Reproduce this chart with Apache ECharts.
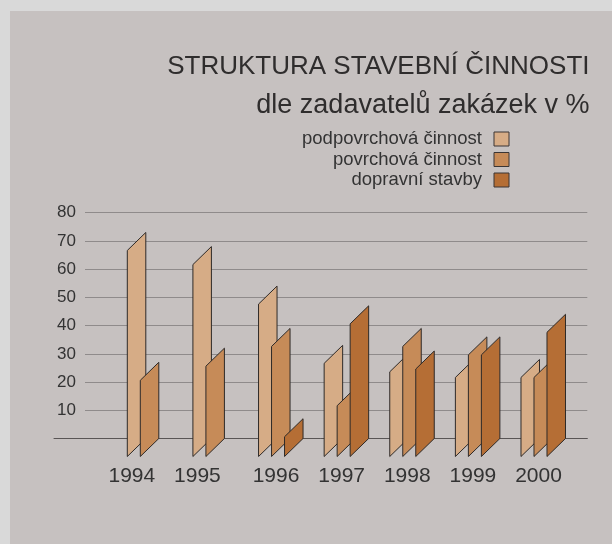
<!DOCTYPE html>
<html>
<head>
<meta charset="utf-8">
<script src="https://cdn.jsdelivr.net/npm/echarts@6/dist/echarts.min.js"></script>
<style>
  html, body { margin: 0; padding: 0; background: #d9d9d9; }
  #chart { width: 612px; height: 544px; }
</style>
</head>
<body>
<div id="chart"></div>
<script>
// roky a podíly (%) podle zadavatelů
var years = ['1994', '1995', '1996', '1997', '1998', '1999', '2000'];
var podpovrchova = [73, 68, 54, 33, 30, 28, 28];
var povrchova = [27, 32, 39, 18, 39, 36, 28];
var dopravni = [null, null, 7, 47, 31, 36, 44];
var seriesNames = ['podpovrchová činnost', 'povrchová činnost', 'dopravní stavby'];
var seriesColors = ['#d6ac86', '#c68b58', '#b56e35'];
var yTicks = [0, 10, 20, 30, 40, 50, 60, 70, 80];

var FONT = '"Liberation Sans", Arial, sans-serif';
var DX = 18.5; // šířka šikmé desky
var DY = 18;   // posun dolního okraje
var offsets = [-17.5, -4.5, 8.5];

function makeRender(k) {
  return function (params, api) {
    var v = api.value(1);
    if (v == null || isNaN(v)) return null;
    var base = api.coord([api.value(0), 0]);
    var top = api.coord([api.value(0), v]);
    var x0 = base[0] + offsets[k];
    return {
      type: 'polygon',
      shape: {
        points: [
          [x0, base[1] + DY],
          [x0, top[1] + DY],
          [x0 + DX, top[1]],
          [x0 + DX, base[1]]
        ]
      },
      style: {
        fill: seriesColors[k],
        stroke: '#2e2a28',
        lineWidth: 1
      }
    };
  };
}

function toData(arr) {
  return arr.map(function (v, i) { return [i, v == null ? '-' : v]; });
}

var allData = [podpovrchova, povrchova, dopravni];

var chart = echarts.init(document.getElementById('chart'), null, { renderer: 'canvas' });

var option = {
  backgroundColor: '#d9d9d9',
  animation: false,
  graphic: [{
    type: 'rect',
    left: 10, top: 11,
    shape: { width: 602, height: 533 },
    style: { fill: '#c6c1c0' },
    z: -10
  }],
  title: [{
    text: 'STRUKTURA STAVEBNÍ ČINNOSTI',
    right: 22.5,
    top: 54,
    padding: 0,
    textStyle: { fontFamily: FONT, fontSize: 26, fontWeight: 'normal', color: '#2f2d2d' }
  }, {
    text: 'dle zadavatelů zakázek v %',
    right: 22.5,
    top: 92,
    padding: 0,
    textStyle: { fontFamily: FONT, fontSize: 27, fontWeight: 'normal', color: '#2f2d2d' }
  }],
  legend: {
    orient: 'vertical',
    align: 'right',
    right: 102.5,
    top: 129.5,
    padding: 0,
    itemWidth: 15,
    itemHeight: 14,
    itemGap: 1.5,
    selectedMode: false,
    textStyle: { fontFamily: FONT, fontSize: 18.5, color: '#333', padding: [0, 7, 0, 0] },
    data: seriesNames.map(function (n, k) {
      return { name: n, icon: 'rect', itemStyle: { color: seriesColors[k], borderColor: '#3a3534', borderWidth: 1 } };
    })
  },
  grid: [
    { left: 85, right: 24.7, top: 212.7, bottom: 105.5 },
    { left: 54, right: 24.7, top: 212.7, bottom: 105.5 },
    { left: 112, right: 40.7, top: 212.7, bottom: 105.5 }
  ],
  xAxis: [
    { gridIndex: 0, type: 'category', data: years, show: false },
    {
      gridIndex: 1, type: 'category', data: years,
      axisLine: { show: true, lineStyle: { color: '#595555', width: 1 } },
      axisTick: { show: false }, axisLabel: { show: false }
    },
    {
      gridIndex: 2, type: 'category', data: years,
      axisLine: { show: false }, axisTick: { show: false },
      axisLabel: {
        interval: 0,
        margin: 27,
        fontFamily: FONT, fontSize: 21, color: '#333',
        formatter: function (v, i) { return dopravni[i] == null ? '{s|' + v + '}' : v; },
        rich: { s: { fontFamily: FONT, fontSize: 21, color: '#333', padding: [0, 26, 0, 0] } }
      }
    }
  ],
  yAxis: [
    {
      gridIndex: 0, type: 'value', min: yTicks[0], max: yTicks[yTicks.length - 1], interval: 10,
      axisLine: { show: false }, axisTick: { show: false },
      axisLabel: {
        margin: 9, fontFamily: FONT, fontSize: 17, color: '#333',
        formatter: function (v) { return v === 0 ? '' : String(v); }
      },
      splitLine: { show: true, lineStyle: { color: '#8f8b8b', width: 1 } }
    },
    { gridIndex: 1, type: 'value', min: 0, max: 80, show: false },
    { gridIndex: 2, type: 'value', min: 0, max: 80, show: false }
  ],
  series: seriesNames.map(function (n, k) {
    return {
      name: n,
      type: 'custom',
      xAxisIndex: 2,
      yAxisIndex: 2,
      itemStyle: { color: seriesColors[k], borderColor: '#3a3534', borderWidth: 1 },
      renderItem: makeRender(k),
      encode: { x: 0, y: 1 },
      data: toData(allData[k]),
      z: 3 + k
    };
  })
};

chart.setOption(option);
</script>
</body>
</html>
